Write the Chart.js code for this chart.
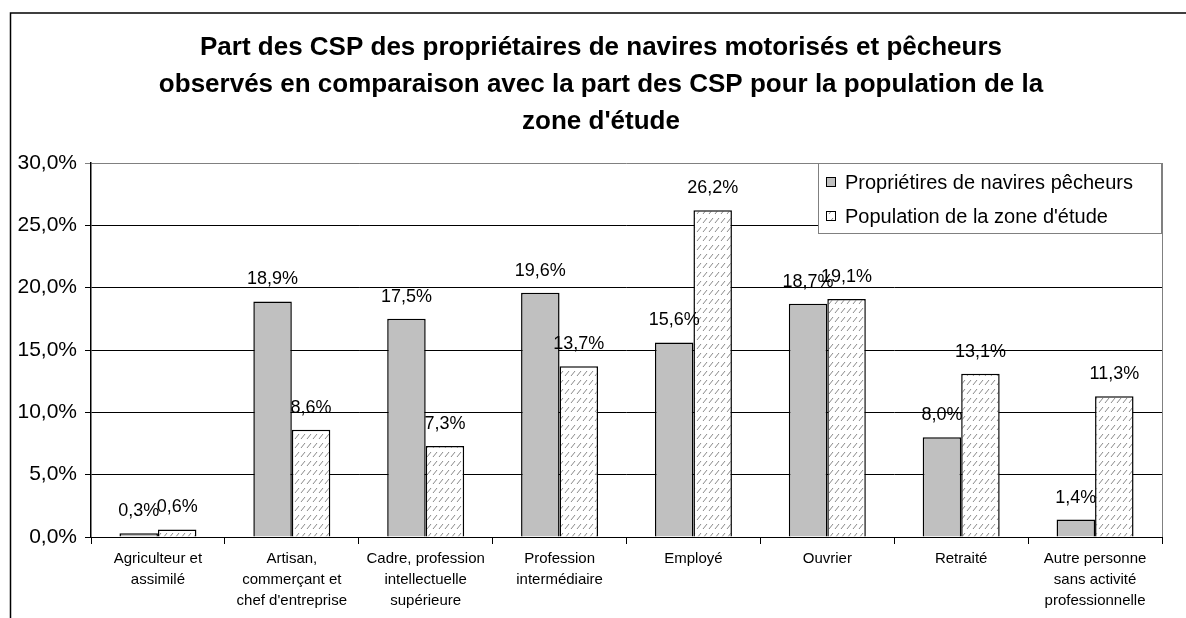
<!DOCTYPE html>
<html>
<head>
<meta charset="utf-8">
<script src="https://cdn.jsdelivr.net/npm/chart.js@4.4.0/dist/chart.umd.min.js"></script>
<style>
  html, body { margin: 0; padding: 0; background: #fff; }
  #wrap { width: 1186px; height: 618px; }
</style>
</head>
<body>
<div id="wrap"><canvas id="csp-chart"></canvas></div>
<script>
// chart data
var categories = [
    ['Agriculteur et', 'assimilé'],
    ['Artisan,', 'commerçant et', "chef d'entreprise"],
    ['Cadre, profession', 'intellectuelle', 'supérieure'],
    ['Profession', 'intermédiaire'],
    ['Employé'],
    ['Ouvrier'],
    ['Retraité'],
    ['Autre personne', 'sans activité', 'professionnelle']
];
var proprietaires = [0.3, 18.9, 17.5, 19.6, 15.6, 18.7, 8.0, 1.4];
var population = [0.6, 8.6, 7.3, 13.7, 26.2, 19.1, 13.1, 11.3];
var seriesLabels = ['Propriétires de navires pêcheurs', "Population de la zone d'étude"];
var yMin = 0, yMax = 30, yStep = 5;
var titleLines = [
    'Part des CSP des propriétaires de navires motorisés et pêcheurs',
    'observés en comparaison avec la part des CSP pour la population de la',
    "zone d'étude"
];

var FONT = '"Liberation Sans", Arial, sans-serif';

function pct(v) {
    return v.toFixed(1).replace('.', ',') + '%';
}

document.addEventListener('DOMContentLoaded', function () {
    var canvas = document.getElementById('csp-chart');
    var ctx = canvas.getContext('2d');

    // hatch pattern for the second series
    var tile = document.createElement('canvas');
    tile.width = 6;
    tile.height = 9;
    var t = tile.getContext('2d');
    t.fillStyle = '#ffffff';
    t.fillRect(0, 0, 6, 9);
    t.strokeStyle = '#8a8a8a';
    t.lineWidth = 1;
    t.beginPath();
    t.moveTo(1, 7);
    t.lineTo(5, 2);
    t.stroke();
    var hatch = ctx.createPattern(tile, 'repeat');

    var framePlugin = {
        id: 'frame',
        beforeDraw: function (chart) {
            var c = chart.ctx;
            c.save();
            c.fillStyle = '#fff';
            c.fillRect(0, 0, chart.width, chart.height);
            c.strokeStyle = '#000';
            c.lineWidth = 1.5;
            c.beginPath();
            c.moveTo(10.5, chart.height + 2);
            c.lineTo(10.5, 13);
            c.lineTo(chart.width + 2, 13);
            c.stroke();
            // title
            c.fillStyle = '#000';
            c.font = 'bold 26px ' + FONT;
            c.textAlign = 'center';
            c.textBaseline = 'middle';
            titleLines.forEach(function (line, i) {
                c.fillText(line, 601, 48 + i * 37);
            });
            c.restore();
        },
        afterDatasetsDraw: function (chart) {
            var c = chart.ctx;
            var a = chart.chartArea;
            c.save();
            // plot area right border
            c.strokeStyle = '#808080';
            c.lineWidth = 1;
            c.beginPath();
            c.moveTo(a.right + 0.5, a.top);
            c.lineTo(a.right + 0.5, a.bottom);
            c.stroke();
            // value labels
            c.fillStyle = '#000';
            c.font = '18px ' + FONT;
            c.textAlign = 'center';
            c.textBaseline = 'middle';
            chart.data.datasets.forEach(function (ds, di) {
                var meta = chart.getDatasetMeta(di);
                meta.data.forEach(function (bar, i) {
                    c.fillText(pct(ds.data[i]), bar.x, bar.y - 22);
                });
            });
            // legend box
            var lx = 818, ly = 163, lw = 343, lh = 70;
            c.fillStyle = '#fff';
            c.fillRect(lx, ly, lw, lh);
            c.strokeStyle = '#808080';
            c.strokeRect(lx + 0.5, ly + 0.5, lw, lh);
            c.font = '20px ' + FONT;
            c.textAlign = 'left';
            chart.data.datasets.forEach(function (ds, di) {
                var cy = ly + 19 + di * 34;
                c.fillStyle = ds.backgroundColor;
                c.fillRect(826, cy - 5, 10, 10);
                c.strokeStyle = '#000';
                c.lineWidth = 1;
                c.strokeRect(826.5, cy - 4.5, 9, 9);
                c.fillStyle = '#000';
                c.fillText(ds.label, 845, cy + 1);
            });
            c.restore();
        }
    };

    new Chart(ctx, {
        type: 'bar',
        data: {
            labels: categories,
            datasets: [{
                label: seriesLabels[0],
                data: proprietaires,
                backgroundColor: '#c0c0c0',
                borderColor: '#000',
                borderWidth: 1.5
            }, {
                label: seriesLabels[1],
                data: population,
                backgroundColor: hatch,
                borderColor: '#000',
                borderWidth: 1.5
            }]
        },
        options: {
            responsive: true,
            maintainAspectRatio: false,
            animation: false,
            devicePixelRatio: 1,
            datasets: {
                bar: {
                    categoryPercentage: 0.575,
                    barPercentage: 1
                }
            },
            layout: {
                padding: { left: 10, right: 24, top: 163, bottom: 0 }
            },
            scales: {
                x: {
                    offset: true,
                    grid: {
                        offset: true,
                        drawOnChartArea: false,
                        color: '#000',
                        tickLength: 7
                    },
                    border: { color: '#000', width: 1 },
                    ticks: {
                        color: '#000',
                        autoSkip: false,
                        maxRotation: 0,
                        padding: 4,
                        font: { family: FONT, size: 15, lineHeight: '21px' }
                    },
                    afterFit: function (s) { s.height = 81; }
                },
                y: {
                    min: yMin,
                    max: yMax,
                    ticks: {
                        stepSize: yStep,
                        color: '#000',
                        padding: 8,
                        font: { family: FONT, size: 21 },
                        callback: function (v) { return pct(v); }
                    },
                    grid: {
                        color: function (c) { return c.tick && c.tick.value === yMax ? '#808080' : '#000'; },
                        lineWidth: 1,
                        tickLength: 6
                    },
                    border: { color: '#000', width: 1.5 },
                    afterFit: function (s) { s.width = 81; }
                }
            },
            plugins: {
                legend: { display: false },
                title: { display: false },
                tooltip: { enabled: false }
            }
        },
        plugins: [framePlugin]
    });
});
</script>
</body>
</html>
